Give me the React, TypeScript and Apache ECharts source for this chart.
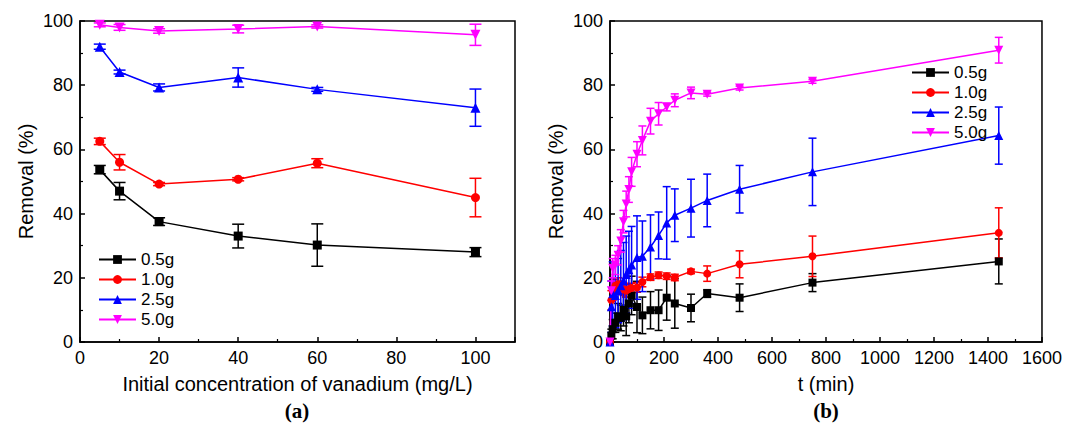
import React, { useEffect, useRef } from 'react';
import * as echarts from 'echarts';

// ---- Panel (a): removal vs initial vanadium concentration ----
const concX = [5, 10, 20, 40, 60, 100];
const a05 = [53.7, 47.0, 37.5, 33.0, 30.2, 28.0];
const a05Err = [1.3, 2.7, 1.2, 3.7, 6.6, 1.4];
const a10 = [62.5, 56.0, 49.2, 50.7, 55.7, 45.0];
const a10Err = [1.0, 2.4, 0.5, 0.5, 1.4, 6.0];
const a25 = [92.0, 84.1, 79.3, 82.4, 78.7, 73.0];
const a25Err = [0.8, 0.6, 1.1, 3.0, 0.6, 5.8];
const a50 = [98.8, 98.0, 96.9, 97.5, 98.3, 95.7];
const a50Err = [0.6, 0.9, 0.7, 1.2, 0.5, 3.3];

// ---- Panel (b): removal vs time ----
const timeX = [0, 5, 10, 20, 30, 40, 50, 60, 70, 80, 100, 120, 150, 180, 210, 240, 300, 360, 480, 750, 1440];
const b05 = [0, 2, 4, 6, 8, 7.5, 10, 8, 12, 14.5, 10.9, 8.3, 9.9, 9.9, 13.8, 12.0, 10.6, 15.1, 13.8, 18.5, 25.1];
const b05Err = [0.5, 2, 3, 3, 4, 4, 5, 6, 6, 6, 8, 5.7, 5.8, 6.3, 7, 7.7, 4.3, 1.2, 4.3, 2.8, 7];
const b10 = [0, 13, 16, 17.5, 18, 17, 16.5, 16, 16.5, 16.8, 17, 18.7, 20.2, 20.8, 20.5, 20.1, 22, 21.3, 24.2, 26.7, 34];
const b10Err = [0.5, 3, 3, 2, 2, 2, 2, 2, 1.5, 1.5, 1.5, 1.5, 1, 1, 1, 1, 0.7, 2.4, 4.2, 6.3, 7.8];
const b25 = [0, 11, 15, 14.5, 16, 17.5, 19, 21, 22.5, 24, 26.3, 26.7, 29.6, 33.2, 37.1, 39.5, 41.7, 44.1, 47.6, 53, 64.3];
const b25Err = [1, 8, 10, 10, 10, 11, 12, 12, 12, 12, 13, 11, 10, 7.3, 11.3, 8.2, 9, 8.2, 7.4, 10.5, 8.9];
const b50 = [0, 16, 23, 24, 27, 31.5, 37.5, 43, 47.5, 53, 58.5, 62.8, 68.8, 71.1, 73.2, 75.3, 77.6, 77.2, 79.1, 81.2, 90.9];
const b50Err = [0.5, 3, 3, 3, 3, 3.5, 3.5, 4, 4, 4.5, 3.9, 4.5, 4, 3.5, 1.2, 2, 1.8, 0.6, 0.6, 0.6, 4];

const seriesNames = ['0.5g', '1.0g', '2.5g', '5.0g'];
const colors = ['#000000', '#ff0000', '#0000ff', '#ff00ff'];
const symbols = ['rect', 'circle', 'triangle', 'triangle'];
const rotates = [0, 0, 0, 180];

const xTitleA = 'Initial concentration of vanadium (mg/L)';
const xTitleB = 't (min)';
const yTitle = 'Removal (%)';
const panelLabels = ['(a)', '(b)'];

const FONT = '"Liberation Sans", Arial, sans-serif';

function errSeries(name: string, xs: number[], ys: number[], es: number[], color: string, axis: number, cap: number) {
  return {
    type: 'custom',
    name: name + ' err',
    xAxisIndex: axis,
    yAxisIndex: axis,
    silent: true,
    z: 1,
    data: xs.map((x, i) => [x, ys[i] - es[i], ys[i] + es[i]]),
    encode: { x: 0, y: [1, 2] },
    renderItem: (_p: any, api: any) => {
      const x = api.value(0);
      const lo = api.coord([x, api.value(1)]);
      const hi = api.coord([x, api.value(2)]);
      const st = { stroke: color, lineWidth: 1.5 };
      return {
        type: 'group',
        children: [
          { type: 'line', shape: { x1: lo[0], y1: lo[1], x2: hi[0], y2: hi[1] }, style: st },
          { type: 'line', shape: { x1: lo[0] - cap, y1: lo[1], x2: lo[0] + cap, y2: lo[1] }, style: st },
          { type: 'line', shape: { x1: hi[0] - cap, y1: hi[1], x2: hi[0] + cap, y2: hi[1] }, style: st },
        ],
      };
    },
  };
}

function lineSeries(idx: number, xs: number[], ys: number[], axis: number, size: number) {
  return {
    type: 'line',
    name: seriesNames[idx],
    xAxisIndex: axis,
    yAxisIndex: axis,
    data: xs.map((x, i) => [x, ys[i]]),
    symbol: symbols[idx],
    symbolRotate: rotates[idx],
    symbolSize: idx === 2 || idx === 3 ? size + 1 : size,
    showSymbol: true,
    lineStyle: { color: colors[idx], width: 1.5 },
    itemStyle: { color: colors[idx] },
    z: 3,
  };
}

function yAxis(gridIndex: number) {
  return {
    type: 'value',
    gridIndex,
    min: 0,
    max: 100,
    interval: 20,
    name: yTitle,
    nameLocation: 'middle',
    nameGap: 44,
    nameTextStyle: { fontSize: 20, color: '#000', fontFamily: FONT },
    axisLine: { show: true, lineStyle: { color: '#000', width: 1.5 } },
    axisTick: { show: true, inside: true, length: 5, lineStyle: { color: '#000', width: 1.5 } },
    minorTick: { show: true, splitNumber: 2, length: 3, lineStyle: { color: '#000', width: 1.2 } },
    splitLine: { show: false },
    axisLabel: { fontSize: 18, color: '#000', fontFamily: FONT, margin: 7 },
  };
}

export default function App() {
  const ref = useRef<HTMLDivElement>(null);
  useEffect(() => {
    if (!ref.current) return;
    const chart = echarts.init(ref.current, undefined, { renderer: 'svg' });
    const ya = [a05, a10, a25, a50];
    const yaErr = [a05Err, a10Err, a25Err, a50Err];
    const yb = [b05, b10, b25, b50];
    const ybErr = [b05Err, b10Err, b25Err, b50Err];
    const series: any[] = [];
    for (let i = 0; i < 4; i++) {
      series.push(errSeries(seriesNames[i], concX, ya[i], yaErr[i], colors[i], 0, 6));
      series.push(errSeries(seriesNames[i], timeX, yb[i], ybErr[i], colors[i], 1, 4));
    }
    for (let i = 0; i < 4; i++) {
      series.push(lineSeries(i, concX, ya[i], 0, 9));
      series.push(lineSeries(i, timeX, yb[i], 1, 8));
    }
    const legendCommon = {
      orient: 'vertical',
      data: seriesNames,
      itemWidth: 37,
      itemHeight: 11,
      itemGap: 3,
      textStyle: { fontSize: 17, color: '#000', fontFamily: FONT, lineHeight: 17 },
      selectedMode: false,
      padding: 0,
    };
    chart.setOption({
      animation: false,
      textStyle: { fontFamily: FONT },
      grid: [
        { left: 80, top: 21, width: 435, height: 321, show: true, borderColor: '#000', borderWidth: 1.5 },
        { left: 610, top: 21, width: 432, height: 321, show: true, borderColor: '#000', borderWidth: 1.5 },
      ],
      xAxis: [
        {
          type: 'value',
          gridIndex: 0,
          min: 0,
          max: 110,
          interval: 20,
          name: xTitleA,
          nameLocation: 'middle',
          nameGap: 32,
          nameTextStyle: { fontSize: 20, color: '#000', fontFamily: FONT },
          axisLine: { show: true, onZero: false, lineStyle: { color: '#000', width: 1.5 } },
          axisTick: { show: true, inside: true, length: 5, lineStyle: { color: '#000', width: 1.5 } },
          minorTick: { show: true, splitNumber: 2, length: 3, lineStyle: { color: '#000', width: 1.2 } },
          splitLine: { show: false },
          axisLabel: {
            fontSize: 18,
            color: '#000',
            fontFamily: FONT,
            margin: 7,
            formatter: (v: number) => (v > 100 ? '' : String(v)),
          },
        },
        {
          type: 'value',
          gridIndex: 1,
          min: 0,
          max: 1600,
          interval: 200,
          name: xTitleB,
          nameLocation: 'middle',
          nameGap: 32,
          nameTextStyle: { fontSize: 20, color: '#000', fontFamily: FONT },
          axisLine: { show: true, onZero: false, lineStyle: { color: '#000', width: 1.5 } },
          axisTick: { show: true, inside: true, length: 5, lineStyle: { color: '#000', width: 1.5 } },
          minorTick: { show: true, splitNumber: 2, length: 3, lineStyle: { color: '#000', width: 1.2 } },
          splitLine: { show: false },
          axisLabel: {
            fontSize: 18,
            color: '#000',
            fontFamily: FONT,
            margin: 7,
            showMaxLabel: true,
            formatter: (v: number) => String(v),
          },
        },
      ],
      yAxis: [yAxis(0), yAxis(1)],
      legend: [
        { ...legendCommon, left: 98, top: 251 },
        { ...legendCommon, left: 911, top: 64 },
      ],
      graphic: [
        {
          type: 'text',
          x: 297,
          y: 411,
          style: { text: panelLabels[0], font: 'bold 21px "Liberation Serif", "Times New Roman", serif', fill: '#000', textAlign: 'center', textVerticalAlign: 'middle' },
        },
        {
          type: 'text',
          x: 826,
          y: 411,
          style: { text: panelLabels[1], font: 'bold 21px "Liberation Serif", "Times New Roman", serif', fill: '#000', textAlign: 'center', textVerticalAlign: 'middle' },
        },
      ],
      series,
    });
    return () => chart.dispose();
  }, []);
  return <div ref={ref} style={{ position: 'absolute', left: 0, top: 0, width: 1065, height: 431, background: '#fff' }} />;
}
